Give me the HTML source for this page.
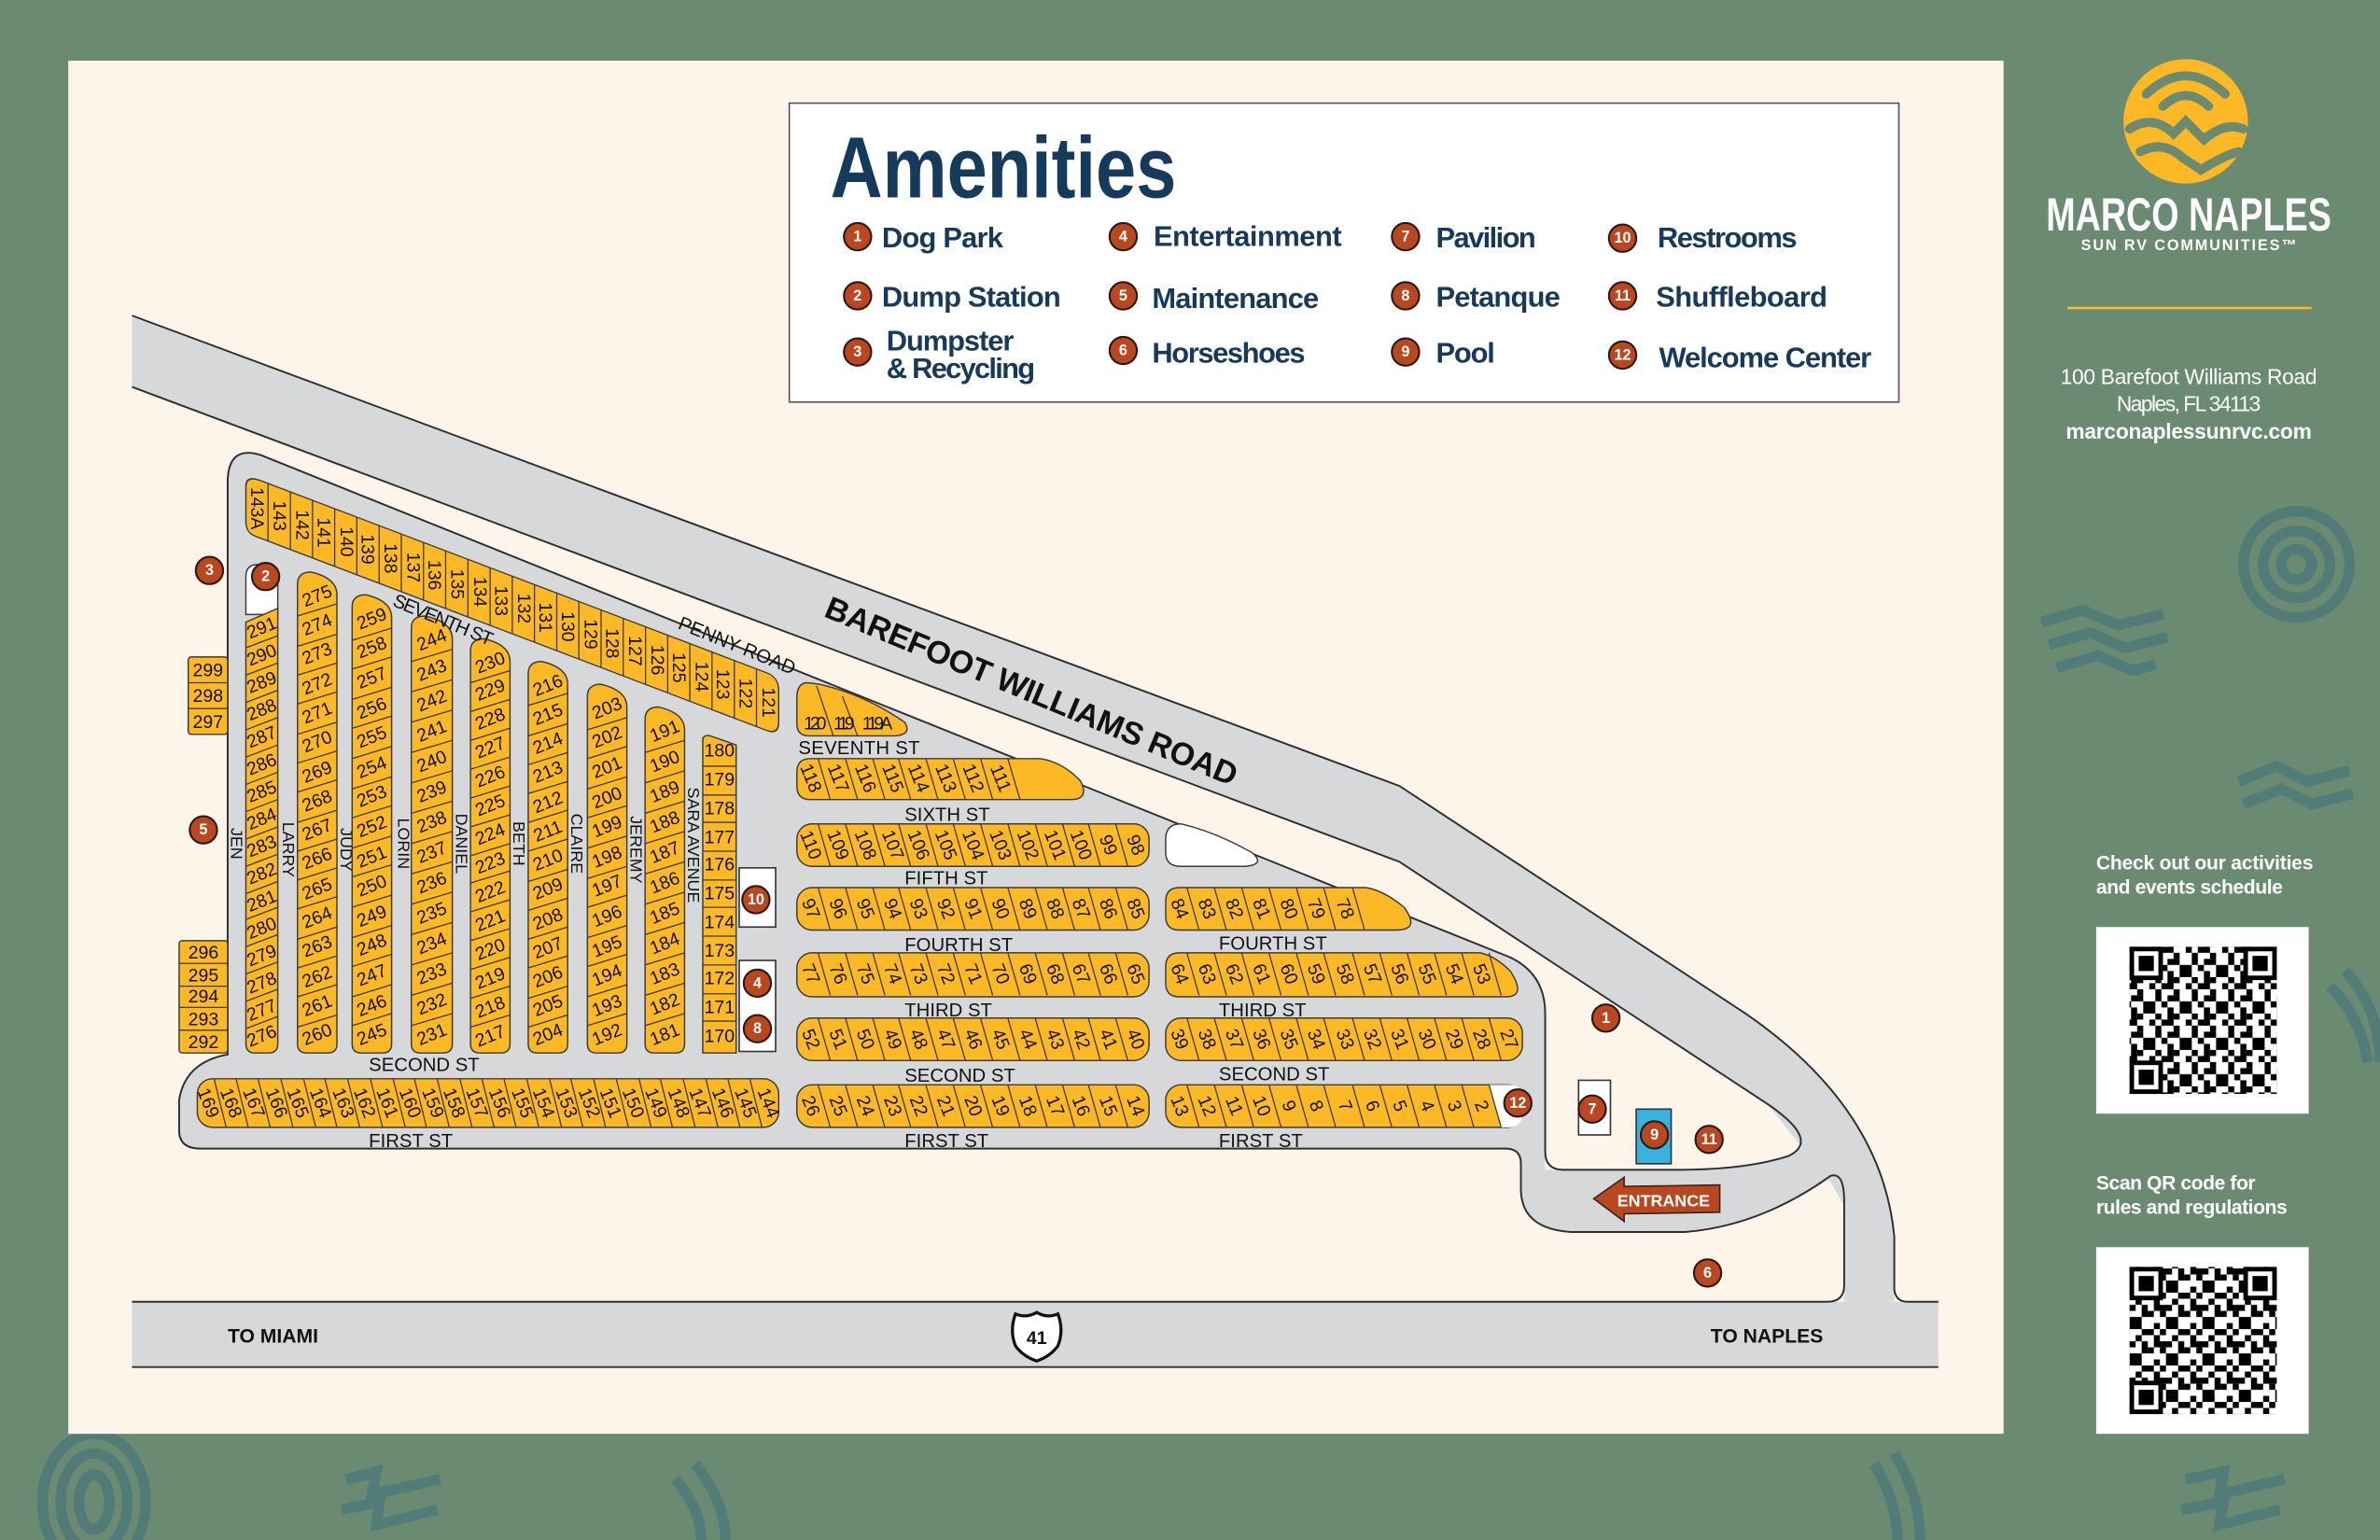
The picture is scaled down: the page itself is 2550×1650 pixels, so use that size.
<!DOCTYPE html>
<html><head><meta charset="utf-8"><style>
html,body{margin:0;padding:0;background:#6a8b71;}
svg{display:block}
</style></head><body>
<svg width="2550" height="1650" viewBox="0 0 1568 1015" preserveAspectRatio="none" xmlns="http://www.w3.org/2000/svg">
<style>
.n{font-family:"Liberation Sans Narrow","Liberation Sans",sans-serif;font-size:12px;fill:#111;text-anchor:middle;dominant-baseline:central}
.s{font-family:"Liberation Sans Narrow","Liberation Sans",sans-serif;font-size:12.5px;fill:#111}
.sv{font-family:"Liberation Sans Narrow","Liberation Sans",sans-serif;font-size:11px;fill:#111;text-anchor:middle;dominant-baseline:central}
.lg{font-family:"Liberation Sans Narrow","Liberation Sans",sans-serif;font-size:19px;fill:#163a5c;font-weight:bold}
.cn{font-family:"Liberation Sans",sans-serif;font-size:10px;font-weight:bold;fill:#fff;text-anchor:middle;dominant-baseline:central}
.y{fill:#fdb825;stroke:#3b3b3b;stroke-width:0.9}
.dv{fill:none;stroke:#3b3b3b;stroke-width:0.8}
.w{fill:#fff;font-family:"Liberation Sans",sans-serif}
</style>
<defs>
<g id="c"><circle r="9" fill="#b9471f" stroke="#2a1a14" stroke-width="1.3"/></g>
<path id="dl" class="dv" d="M539,0L547,28M557,0L565,28M575,0L583,28M592,0L600,28M610,0L618,28M628,0L636,28M646,0L654,28M664,0L672,28M682,0L690,28M700,0L708,28M717,0L725,28M735,0L743,28"/>
<path id="dl8" class="dv" d="M539,0L547,27M557,0L565,27M575,0L583,27M592,0L600,27M610,0L618,27M628,0L636,27M646,0L654,27M664,0L672,27"/>
<path id="dr" class="dv" d="M782,0L790,28M800,0L808,28M818,0L826,28M836,0L844,28M854,0L862,28M872,0L880,28M891,0L899,28M909,0L917,28M927,0L935,28M945,0L953,28M963,0L971,28M981,0L989,28"/>
<path id="dr7" class="dv" d="M782,0L790,28M800,0L808,28M818,0L826,28M836,0L844,28M854,0L862,28M872,0L880,28M891,0L899,28"/>
<pattern id="qp" width="24" height="24" patternUnits="userSpaceOnUse">
<rect width="24" height="24" fill="#fff"/>
<g fill="#000"><rect x="0" y="0" width="4" height="4"/><rect x="8" y="0" width="8" height="4"/><rect x="4" y="4" width="4" height="8"/><rect x="16" y="4" width="4" height="4"/><rect x="12" y="8" width="8" height="4"/><rect x="0" y="12" width="4" height="8"/><rect x="8" y="12" width="4" height="4"/><rect x="20" y="12" width="4" height="8"/><rect x="12" y="16" width="4" height="8"/><rect x="4" y="20" width="4" height="4"/><rect x="16" y="20" width="4" height="4"/></g>
</pattern>
<g id="fp"><rect x="0" y="0" width="22" height="22" fill="#000"/><rect x="3" y="3" width="16" height="16" fill="#fff"/><rect x="6" y="6" width="10" height="10" fill="#000"/></g>
</defs>

<!-- decorative teal -->
<g fill="none" stroke="#4f7a78" stroke-width="7" opacity="0.9">
<circle cx="1513" cy="372" r="35"/><circle cx="1513" cy="372" r="22"/><circle cx="1513" cy="372" r="10"/>
<ellipse cx="62" cy="990" rx="34" ry="45"/><ellipse cx="62" cy="990" rx="22" ry="32"/><ellipse cx="62" cy="990" rx="10" ry="18"/>
<path d="M1345,410 L1372,402 L1395,412 L1425,405 M1350,425 L1377,417 L1400,427 L1428,420 M1355,440 L1382,432 L1405,442 L1420,438"/>
<path d="M1475,515 L1500,505 L1520,515 L1548,508 M1478,530 L1503,520 L1523,530 L1550,523"/>
<path d="M1535,650 Q1555,670 1560,700 M1545,640 Q1568,665 1568,700"/>
<path d="M228,975 L248,970 L245,985 L290,975 M225,995 L250,990 L248,1005 L288,995"/>
<path d="M445,975 Q462,995 462,1015 M458,965 Q478,990 478,1015"/>
<path d="M1235,965 Q1250,990 1250,1015 M1248,958 Q1265,985 1265,1015"/>
<path d="M1440,975 L1465,970 L1462,985 L1505,975 M1437,995 L1465,990 L1462,1005 L1502,995"/>
</g>

<!-- cream panel -->
<rect x="45" y="40" width="1275" height="905" fill="#fdf4ea"/>

<!-- roads fill -->
<g fill="#d7d8da">
<path d="M87,208 L922,518 L1150,668 Q1240,730 1248,815 L1248,858 L1215,858 L1215,790 L1190,760 L1165,728 L922,568 L87,255 Z"/>
<path d="M150,318 Q150,293 172,300 L995,631 Q1018,642 1018,668 L1018,771 L1105,771 Q1150,771 1178,762 L1195,752 L1215,775 L1215,795 L1205,777 Q1160,808 1110,812 L1035,812 Q1003,810 1002,785 L1002,767 Q1002,757 992,757 L132,757 Q118,757 118,745 L118,725 Q122,700 150,695 Z"/>
<rect x="87" y="858" width="1190" height="43"/>
</g>
<g fill="none" stroke="#2e2e2e" stroke-width="1.2">
<path d="M87,208 L922,518 L1150,668 Q1240,730 1248,815 L1248,850 Q1249,858 1257,858 L1277,858"/>
<path d="M87,255 L922,568 L1165,728 Q1200,752 1178,762 Q1150,771 1105,771 L1030,771 Q1018,771 1018,759 L1018,668 Q1018,642 995,631 L172,300 Q150,293 150,318 L150,695 Q122,700 118,725 L118,745 Q118,757 132,757 L992,757 Q1002,757 1002,767 L1002,785 Q1003,810 1035,812 L1110,812 Q1160,808 1206,775 Q1215,772 1215,792 L1215,847 Q1215,858 1204,858 L87,858"/>
<path d="M87,901 L1277,901"/>
</g>

<!-- road labels -->
<text transform="translate(542,406) rotate(22.6)" font-family="Liberation Sans,sans-serif" font-weight="bold" font-size="21" textLength="292" fill="#111">BAREFOOT WILLIAMS ROAD</text>
<text x="150" y="885" font-family="Liberation Sans,sans-serif" font-weight="bold" font-size="13" fill="#111">TO MIAMI</text>
<text x="1127" y="885" font-family="Liberation Sans,sans-serif" font-weight="bold" font-size="13" fill="#111">TO NAPLES</text>
<path d="M669,866 Q676,869 683,865 Q690,869 697,866 Q701,877 697,887 Q692,894 683,897 Q674,894 669,887 Q665,877 669,866 Z" fill="#fff" stroke="#111" stroke-width="2"/>
<text x="683" y="882" class="n" font-weight="bold" font-size="13" font-family="Liberation Sans,sans-serif">41</text>

<!-- horizontal street labels -->
<g class="s" font-size="13">
<text x="526" y="497" textLength="80">SEVENTH ST</text>
<text x="596" y="541">SIXTH ST</text>
<text x="596" y="583">FIFTH ST</text>
<text x="596" y="627">FOURTH ST</text>
<text x="803" y="626">FOURTH ST</text>
<text x="596" y="670">THIRD ST</text>
<text x="803" y="670">THIRD ST</text>
<text x="596" y="713">SECOND ST</text>
<text x="803" y="712">SECOND ST</text>
<text x="596" y="756">FIRST ST</text>
<text x="803" y="756">FIRST ST</text>
<text x="243" y="706">SECOND ST</text>
<text x="243" y="756">FIRST ST</text>
</g>
<g class="sv">
<text transform="translate(156,556) rotate(90)">JEN</text>
<text transform="translate(190,560) rotate(90)">LARRY</text>
<text transform="translate(228,560) rotate(90)">JUDY</text>
<text transform="translate(266,556) rotate(90)">LORIN</text>
<text transform="translate(304,556) rotate(90)">DANIEL</text>
<text transform="translate(342,556) rotate(90)">BETH</text>
<text transform="translate(380,556) rotate(90)">CLAIRE</text>
<text transform="translate(419,560) rotate(90)">JEREMY</text>
<text transform="translate(457,557) rotate(90)">SARA AVENUE</text>
</g>

<!-- diagonal band 143A-121 -->
<g transform="matrix(1 0.38 0 1 0 0)">
<path class="y" d="M172,251.5 L505,251.5 Q513,251.5 513,260 L513,281 Q513,289.5 505,289.5 L168,289.5 Q162,289.5 162,282 L162,259 Q162,251.5 172,251.5 Z"/>
<path class="dv" d="M176.6,251.5V289.5M191.3,251.5V289.5M205.9,251.5V289.5M220.5,251.5V289.5M235.1,251.5V289.5M249.8,251.5V289.5M264.4,251.5V289.5M279,251.5V289.5M293.6,251.5V289.5M308.3,251.5V289.5M322.9,251.5V289.5M337.5,251.5V289.5M352.1,251.5V289.5M366.8,251.5V289.5M381.4,251.5V289.5M396,251.5V289.5M410.6,251.5V289.5M425.3,251.5V289.5M439.9,251.5V289.5M454.5,251.5V289.5M469.1,251.5V289.5M483.8,251.5V289.5M498.4,251.5V289.5"/>
</g>
<g class="n" font-size="12">
<text transform="translate(169,335) rotate(90)">143A</text>
<text transform="translate(184,340) rotate(90)">143</text>
<text transform="translate(199,346) rotate(90)">142</text>
<text transform="translate(213,351) rotate(90)">141</text>
<text transform="translate(228,357) rotate(90)">140</text>
<text transform="translate(242,362) rotate(90)">139</text>
<text transform="translate(257,368) rotate(90)">138</text>
<text transform="translate(272,374) rotate(90)">137</text>
<text transform="translate(286,379) rotate(90)">136</text>
<text transform="translate(301,385) rotate(90)">135</text>
<text transform="translate(316,390) rotate(90)">134</text>
<text transform="translate(330,396) rotate(90)">133</text>
<text transform="translate(345,401) rotate(90)">132</text>
<text transform="translate(359,407) rotate(90)">131</text>
<text transform="translate(374,413) rotate(90)">130</text>
<text transform="translate(389,418) rotate(90)">129</text>
<text transform="translate(403,424) rotate(90)">128</text>
<text transform="translate(418,429) rotate(90)">127</text>
<text transform="translate(433,435) rotate(90)">126</text>
<text transform="translate(447,440) rotate(90)">125</text>
<text transform="translate(462,446) rotate(90)">124</text>
<text transform="translate(476,451) rotate(90)">123</text>
<text transform="translate(491,457) rotate(90)">122</text>
<text transform="translate(506,463) rotate(90)">121</text>
</g>

<!-- left detached boxes -->
<rect class="y" x="124" y="433" width="26" height="51" rx="2"/>
<path class="dv" d="M124,450H150M124,467H150"/>
<rect class="y" x="118" y="620" width="32" height="74" rx="2"/>
<path class="dv" d="M118,635H150M118,650H150M118,664H150M118,679H150"/>
<g class="n" font-size="12">
<text x="137" y="442">299</text><text x="137" y="459">298</text><text x="137" y="476">297</text>
<text x="134" y="628">296</text><text x="134" y="643">295</text><text x="134" y="657">294</text><text x="134" y="672">293</text><text x="134" y="687">292</text>
</g>

<!-- vertical columns -->
<path d="M162,405 L162,380 Q162,372 170,372 Q183,374 183,384 L183,405 Z" fill="#fff" stroke="#3b3b3b" stroke-width="0.9"/>
<path class="y" d="M162,410 L183,401 L183,688 Q183,694 177,694 L168,694 Q162,694 162,688 Z"/>
<path class="y" d="M196,385 Q196,377 205,377 Q222,381 222,392 L222,688 Q222,694 216,694 L202,694 Q196,694 196,688 Z"/>
<path class="y" d="M232,400 Q232,392 241,392 Q258,396 258,407 L258,688 Q258,694 252,694 L238,694 Q232,694 232,688 Z"/>
<path class="y" d="M271,414 Q271,406 280,406 Q298,410 298,421 L298,688 Q298,694 292,694 L277,694 Q271,694 271,688 Z"/>
<path class="y" d="M310,429 Q310,421 319,421 Q336,425 336,436 L336,688 Q336,694 330,694 L316,694 Q310,694 310,688 Z"/>
<path class="y" d="M348,444 Q348,436 357,436 Q374,440 374,451 L374,688 Q374,694 368,694 L354,694 Q348,694 348,688 Z"/>
<path class="y" d="M387,459 Q387,451 396,451 Q413,455 413,466 L413,688 Q413,694 407,694 L393,694 Q387,694 387,688 Z"/>
<path class="y" d="M425,474 Q425,466 434,466 Q451,470 451,481 L451,688 Q451,694 445,694 L431,694 Q425,694 425,688 Z"/>
<path class="y" d="M463,486 L463,488 Q463,484 468,485 L485,491 L485,694 L463,694 Z"/>
<path class="dv" d="M162,427L183,419M162,445L183,437M162,463L183,455M162,481L183,473M162,499L183,491M162,517L183,509M162,535L183,527M162,553L183,545M162,571L183,563M162,589L183,581M162,606L183,598M162,624L183,616M162,642L183,634M162,660L183,652M162,678L183,670"/>
<path class="dv" d="M196,406L222,398M196,426L222,418M196,445L222,437M196,464L222,456M196,484L222,476M196,503L222,495M196,522L222,514M196,542L222,534M196,561L222,553M196,580L222,572M196,599L222,591M196,619L222,611M196,638L222,630M196,657L222,649M196,677L222,669"/>
<path class="dv" d="M232,422L258,414M232,441L258,433M232,461L258,453M232,480L258,472M232,500L258,492M232,520L258,512M232,539L258,531M232,559L258,551M232,578L258,570M232,598L258,590M232,618L258,610M232,637L258,629M232,657L258,649M232,676L258,668"/>
<path class="dv" d="M271,436L298,428M271,456L298,448M271,476L298,468M271,496L298,488M271,516L298,508M271,536L298,528M271,556L298,548M271,576L298,568M271,596L298,588M271,616L298,608M271,636L298,628M271,656L298,648M271,676L298,668"/>
<path class="dv" d="M310,450L336,442M310,469L336,461M310,488L336,480M310,507L336,499M310,526L336,518M310,545L336,537M310,564L336,556M310,582L336,574M310,601L336,593M310,620L336,612M310,639L336,631M310,658L336,650M310,677L336,669"/>
<path class="dv" d="M348,465L374,457M348,485L374,477M348,504L374,496M348,523L374,515M348,542L374,534M348,561L374,553M348,581L374,573M348,600L374,592M348,619L374,611M348,638L374,630M348,658L374,650M348,677L374,669"/>
<path class="dv" d="M387,481L413,473M387,500L413,492M387,520L413,512M387,539L413,531M387,559L413,551M387,579L413,571M387,598L413,590M387,618L413,610M387,637L413,629M387,657L413,649M387,676L413,668"/>
<path class="dv" d="M425,496L451,488M425,516L451,508M425,536L451,528M425,556L451,548M425,576L451,568M425,596L451,588M425,616L451,608M425,636L451,628M425,656L451,648M425,676L451,668"/>
<path class="dv" d="M463,505H485M463,524H485M463,542H485M463,561H485M463,580H485M463,598H485M463,617H485M463,636H485M463,655H485M463,673H485"/>

<!-- diagonal labels drawn over -->
<text transform="translate(258,399) rotate(22.5)" class="s" font-size="12" textLength="70">SEVENTH ST</text>
<text transform="translate(446,414) rotate(22)" class="s" font-size="12" textLength="82">PENNY ROAD</text>

<g class="n" font-size="12">
<text transform="translate(172.5,414) rotate(-22)">291</text><text transform="translate(172.5,432) rotate(-22)">290</text><text transform="translate(172.5,450) rotate(-22)">289</text><text transform="translate(172.5,468) rotate(-22)">288</text><text transform="translate(172.5,486) rotate(-22)">287</text><text transform="translate(172.5,504) rotate(-22)">286</text><text transform="translate(172.5,522) rotate(-22)">285</text><text transform="translate(172.5,540) rotate(-22)">284</text><text transform="translate(172.5,558) rotate(-22)">283</text><text transform="translate(172.5,576) rotate(-22)">282</text><text transform="translate(172.5,594) rotate(-22)">281</text><text transform="translate(172.5,612) rotate(-22)">280</text><text transform="translate(172.5,630) rotate(-22)">279</text><text transform="translate(172.5,648) rotate(-22)">278</text><text transform="translate(172.5,666) rotate(-22)">277</text><text transform="translate(172.5,683) rotate(-22)">276</text>
<text transform="translate(209,393) rotate(-22)">275</text><text transform="translate(209,412) rotate(-22)">274</text><text transform="translate(209,431) rotate(-22)">273</text><text transform="translate(209,451) rotate(-22)">272</text><text transform="translate(209,470) rotate(-22)">271</text><text transform="translate(209,489) rotate(-22)">270</text><text transform="translate(209,509) rotate(-22)">269</text><text transform="translate(209,528) rotate(-22)">268</text><text transform="translate(209,547) rotate(-22)">267</text><text transform="translate(209,566) rotate(-22)">266</text><text transform="translate(209,586) rotate(-22)">265</text><text transform="translate(209,605) rotate(-22)">264</text><text transform="translate(209,624) rotate(-22)">263</text><text transform="translate(209,644) rotate(-22)">262</text><text transform="translate(209,663) rotate(-22)">261</text><text transform="translate(209,682) rotate(-22)">260</text>
<text transform="translate(245,408) rotate(-22)">259</text><text transform="translate(245,427) rotate(-22)">258</text><text transform="translate(245,447) rotate(-22)">257</text><text transform="translate(245,467) rotate(-22)">256</text><text transform="translate(245,486) rotate(-22)">255</text><text transform="translate(245,506) rotate(-22)">254</text><text transform="translate(245,525) rotate(-22)">253</text><text transform="translate(245,545) rotate(-22)">252</text><text transform="translate(245,565) rotate(-22)">251</text><text transform="translate(245,584) rotate(-22)">250</text><text transform="translate(245,604) rotate(-22)">249</text><text transform="translate(245,623) rotate(-22)">248</text><text transform="translate(245,643) rotate(-22)">247</text><text transform="translate(245,663) rotate(-22)">246</text><text transform="translate(245,682) rotate(-22)">245</text>
<text transform="translate(284.5,422) rotate(-22)">244</text><text transform="translate(284.5,442) rotate(-22)">243</text><text transform="translate(284.5,462) rotate(-22)">242</text><text transform="translate(284.5,482) rotate(-22)">241</text><text transform="translate(284.5,502) rotate(-22)">240</text><text transform="translate(284.5,522) rotate(-22)">239</text><text transform="translate(284.5,542) rotate(-22)">238</text><text transform="translate(284.5,562) rotate(-22)">237</text><text transform="translate(284.5,582) rotate(-22)">236</text><text transform="translate(284.5,602) rotate(-22)">235</text><text transform="translate(284.5,622) rotate(-22)">234</text><text transform="translate(284.5,642) rotate(-22)">233</text><text transform="translate(284.5,662) rotate(-22)">232</text><text transform="translate(284.5,682) rotate(-22)">231</text>
<text transform="translate(323,437) rotate(-22)">230</text><text transform="translate(323,455) rotate(-22)">229</text><text transform="translate(323,474) rotate(-22)">228</text><text transform="translate(323,493) rotate(-22)">227</text><text transform="translate(323,512) rotate(-22)">226</text><text transform="translate(323,531) rotate(-22)">225</text><text transform="translate(323,550) rotate(-22)">224</text><text transform="translate(323,569) rotate(-22)">223</text><text transform="translate(323,588) rotate(-22)">222</text><text transform="translate(323,607) rotate(-22)">221</text><text transform="translate(323,626) rotate(-22)">220</text><text transform="translate(323,645) rotate(-22)">219</text><text transform="translate(323,664) rotate(-22)">218</text><text transform="translate(323,683) rotate(-22)">217</text>
<text transform="translate(361,452) rotate(-22)">216</text><text transform="translate(361,471) rotate(-22)">215</text><text transform="translate(361,490) rotate(-22)">214</text><text transform="translate(361,509) rotate(-22)">213</text><text transform="translate(361,529) rotate(-22)">212</text><text transform="translate(361,548) rotate(-22)">211</text><text transform="translate(361,567) rotate(-22)">210</text><text transform="translate(361,586) rotate(-22)">209</text><text transform="translate(361,606) rotate(-22)">208</text><text transform="translate(361,625) rotate(-22)">207</text><text transform="translate(361,644) rotate(-22)">206</text><text transform="translate(361,663) rotate(-22)">205</text><text transform="translate(361,682) rotate(-22)">204</text>
<text transform="translate(400,467) rotate(-22)">203</text><text transform="translate(400,486) rotate(-22)">202</text><text transform="translate(400,506) rotate(-22)">201</text><text transform="translate(400,526) rotate(-22)">200</text><text transform="translate(400,545) rotate(-22)">199</text><text transform="translate(400,565) rotate(-22)">198</text><text transform="translate(400,584) rotate(-22)">197</text><text transform="translate(400,604) rotate(-22)">196</text><text transform="translate(400,624) rotate(-22)">195</text><text transform="translate(400,643) rotate(-22)">194</text><text transform="translate(400,663) rotate(-22)">193</text><text transform="translate(400,682) rotate(-22)">192</text>
<text transform="translate(438,482) rotate(-22)">191</text><text transform="translate(438,502) rotate(-22)">190</text><text transform="translate(438,522) rotate(-22)">189</text><text transform="translate(438,542) rotate(-22)">188</text><text transform="translate(438,562) rotate(-22)">187</text><text transform="translate(438,582) rotate(-22)">186</text><text transform="translate(438,602) rotate(-22)">185</text><text transform="translate(438,622) rotate(-22)">184</text><text transform="translate(438,642) rotate(-22)">183</text><text transform="translate(438,662) rotate(-22)">182</text><text transform="translate(438,682) rotate(-22)">181</text>
</g>
<g class="n" font-size="11.5">
<text x="474" y="495">180</text><text x="474" y="514">179</text><text x="474" y="533">178</text><text x="474" y="552">177</text><text x="474" y="570">176</text><text x="474" y="589">175</text><text x="474" y="608">174</text><text x="474" y="627">173</text><text x="474" y="645">172</text><text x="474" y="664">171</text><text x="474" y="683">170</text>
</g>

<!-- white amenity boxes -->
<rect x="487" y="572" width="24" height="39" fill="#fff" stroke="#333" stroke-width="1"/>
<rect x="487" y="633" width="24" height="60" fill="#fff" stroke="#333" stroke-width="1"/>
<rect x="1040" y="712" width="21" height="36" fill="#fff" stroke="#333" stroke-width="1"/>
<rect x="1078" y="731" width="23" height="36" fill="#38b3e0" stroke="#333" stroke-width="1"/>

<!-- 120 119 119A -->
<path class="y" d="M532,450 Q525,450 525,460 L525,477 Q525,485 533,485 L590,485 Q601,484 596,476 Q570,458 540,451 Z"/>
<path class="dv" d="M538,452L549,485M555,459L565,485"/>
<g class="n" font-size="11"><text x="537" y="477" textLength="15">120</text><text x="556" y="477" textLength="14">119</text><text x="578" y="477" textLength="20">119A</text></g>

<!-- horizontal rows -->
<path class="y" d="M534,500 L685,500 Q700,502 712,515 Q718,527 705,527 L534,527 Q525,527 525,518 L525,509 Q525,500 534,500 Z"/>
<use href="#dl8" y="500"/>
<rect class="y" x="525" y="543" width="232" height="28" rx="10"/><use href="#dl" y="543"/>
<rect class="y" x="525" y="585" width="232" height="28" rx="10"/><use href="#dl" y="585"/>
<rect class="y" x="525" y="628" width="232" height="29" rx="10"/><use href="#dl" y="628"/>
<rect class="y" x="525" y="671" width="232" height="28" rx="10"/><use href="#dl" y="671"/>
<rect class="y" x="525" y="715" width="232" height="28" rx="10"/><use href="#dl" y="715"/>
<path d="M778,543 Q768,543 768,553 L768,562 Q768,571 778,571 L820,571 Q834,570 825,562 Q800,548 778,543 Z" fill="#fff" stroke="#3b3b3b" stroke-width="0.9"/>
<path class="y" d="M777,585 L900,585 Q912,587 925,598 Q936,613 920,613 L777,613 Q768,613 768,604 L768,594 Q768,585 777,585 Z"/><use href="#dr7" y="585"/>
<path class="y" d="M777,628 L975,628 Q985,630 995,640 Q1006,657 992,657 L777,657 Q768,657 768,648 L768,637 Q768,628 777,628 Z"/><use href="#dr" y="628"/>
<rect class="y" x="768" y="671" width="235" height="28" rx="10"/><use href="#dr" y="671"/>
<rect class="y" x="768" y="715" width="235" height="28" rx="10"/>
<path d="M981,715 L994,715 Q1003,715 1003,724 L1003,734 Q1003,743 994,743 L989,743 Z" fill="#fff"/>
<use href="#dr" y="715"/>
<rect class="y" x="130" y="711" width="383" height="32" rx="10"/>
<path class="dv" d="M141,711L149,743M155.5,711L163.5,743M170,711L178,743M185,711L193,743M200,711L208,743M214,711L222,743M229,711L237,743M244,711L252,743M259,711L267,743M273,711L281,743M288,711L296,743M303,711L311,743M317.5,711L325.5,743M332,711L340,743M347,711L355,743M362,711L370,743M376,711L384,743M391,711L399,743M406,711L414,743M421,711L429,743M435,711L443,743M450,711L458,743M465,711L473,743M479.5,711L487.5,743M494,711L502,743"/>

<g class="n" font-size="12.5">
<text transform="translate(534,513) rotate(68)">118</text><text transform="translate(552,513) rotate(68)">117</text><text transform="translate(570,513) rotate(68)">116</text><text transform="translate(588,513) rotate(68)">115</text><text transform="translate(605,513) rotate(68)">114</text><text transform="translate(623,513) rotate(68)">113</text><text transform="translate(641,513) rotate(68)">112</text><text transform="translate(659,513) rotate(68)">111</text>
<text transform="translate(534,557) rotate(68)">110</text><text transform="translate(552,557) rotate(68)">109</text><text transform="translate(570,557) rotate(68)">108</text><text transform="translate(588,557) rotate(68)">107</text><text transform="translate(605,557) rotate(68)">106</text><text transform="translate(623,557) rotate(68)">105</text><text transform="translate(641,557) rotate(68)">104</text><text transform="translate(659,557) rotate(68)">103</text><text transform="translate(677,557) rotate(68)">102</text><text transform="translate(695,557) rotate(68)">101</text><text transform="translate(712,557) rotate(68)">100</text><text transform="translate(730,557) rotate(68)">99</text><text transform="translate(748,557) rotate(68)">98</text>
<text transform="translate(534,599) rotate(68)">97</text><text transform="translate(552,599) rotate(68)">96</text><text transform="translate(570,599) rotate(68)">95</text><text transform="translate(588,599) rotate(68)">94</text><text transform="translate(605,599) rotate(68)">93</text><text transform="translate(623,599) rotate(68)">92</text><text transform="translate(641,599) rotate(68)">91</text><text transform="translate(659,599) rotate(68)">90</text><text transform="translate(677,599) rotate(68)">89</text><text transform="translate(695,599) rotate(68)">88</text><text transform="translate(712,599) rotate(68)">87</text><text transform="translate(730,599) rotate(68)">86</text><text transform="translate(748,599) rotate(68)">85</text>
<text transform="translate(534,642) rotate(68)">77</text><text transform="translate(552,642) rotate(68)">76</text><text transform="translate(570,642) rotate(68)">75</text><text transform="translate(588,642) rotate(68)">74</text><text transform="translate(605,642) rotate(68)">73</text><text transform="translate(623,642) rotate(68)">72</text><text transform="translate(641,642) rotate(68)">71</text><text transform="translate(659,642) rotate(68)">70</text><text transform="translate(677,642) rotate(68)">69</text><text transform="translate(695,642) rotate(68)">68</text><text transform="translate(712,642) rotate(68)">67</text><text transform="translate(730,642) rotate(68)">66</text><text transform="translate(748,642) rotate(68)">65</text>
<text transform="translate(534,685) rotate(68)">52</text><text transform="translate(552,685) rotate(68)">51</text><text transform="translate(570,685) rotate(68)">50</text><text transform="translate(588,685) rotate(68)">49</text><text transform="translate(605,685) rotate(68)">48</text><text transform="translate(623,685) rotate(68)">47</text><text transform="translate(641,685) rotate(68)">46</text><text transform="translate(659,685) rotate(68)">45</text><text transform="translate(677,685) rotate(68)">44</text><text transform="translate(695,685) rotate(68)">43</text><text transform="translate(712,685) rotate(68)">42</text><text transform="translate(730,685) rotate(68)">41</text><text transform="translate(748,685) rotate(68)">40</text>
<text transform="translate(534,729) rotate(68)">26</text><text transform="translate(552,729) rotate(68)">25</text><text transform="translate(570,729) rotate(68)">24</text><text transform="translate(588,729) rotate(68)">23</text><text transform="translate(605,729) rotate(68)">22</text><text transform="translate(623,729) rotate(68)">21</text><text transform="translate(641,729) rotate(68)">20</text><text transform="translate(659,729) rotate(68)">19</text><text transform="translate(677,729) rotate(68)">18</text><text transform="translate(695,729) rotate(68)">17</text><text transform="translate(712,729) rotate(68)">16</text><text transform="translate(730,729) rotate(68)">15</text><text transform="translate(748,729) rotate(68)">14</text>
<text transform="translate(777,599) rotate(68)">84</text><text transform="translate(795,599) rotate(68)">83</text><text transform="translate(813,599) rotate(68)">82</text><text transform="translate(831,599) rotate(68)">81</text><text transform="translate(849,599) rotate(68)">80</text><text transform="translate(867,599) rotate(68)">79</text><text transform="translate(886,599) rotate(68)">78</text>
<text transform="translate(777,642) rotate(68)">64</text><text transform="translate(795,642) rotate(68)">63</text><text transform="translate(813,642) rotate(68)">62</text><text transform="translate(831,642) rotate(68)">61</text><text transform="translate(849,642) rotate(68)">60</text><text transform="translate(867,642) rotate(68)">59</text><text transform="translate(886,642) rotate(68)">58</text><text transform="translate(904,642) rotate(68)">57</text><text transform="translate(922,642) rotate(68)">56</text><text transform="translate(940,642) rotate(68)">55</text><text transform="translate(958,642) rotate(68)">54</text><text transform="translate(976,642) rotate(68)">53</text>
<text transform="translate(777,685) rotate(68)">39</text><text transform="translate(795,685) rotate(68)">38</text><text transform="translate(813,685) rotate(68)">37</text><text transform="translate(831,685) rotate(68)">36</text><text transform="translate(849,685) rotate(68)">35</text><text transform="translate(867,685) rotate(68)">34</text><text transform="translate(886,685) rotate(68)">33</text><text transform="translate(904,685) rotate(68)">32</text><text transform="translate(922,685) rotate(68)">31</text><text transform="translate(940,685) rotate(68)">30</text><text transform="translate(958,685) rotate(68)">29</text><text transform="translate(976,685) rotate(68)">28</text><text transform="translate(994,685) rotate(68)">27</text>
<text transform="translate(777,729) rotate(68)">13</text><text transform="translate(795,729) rotate(68)">12</text><text transform="translate(813,729) rotate(68)">11</text><text transform="translate(831,729) rotate(68)">10</text><text transform="translate(849,729) rotate(68)">9</text><text transform="translate(867,729) rotate(68)">8</text><text transform="translate(886,729) rotate(68)">7</text><text transform="translate(904,729) rotate(68)">6</text><text transform="translate(922,729) rotate(68)">5</text><text transform="translate(940,729) rotate(68)">4</text><text transform="translate(958,729) rotate(68)">3</text><text transform="translate(976,729) rotate(68)">2</text>
</g>
<g class="n" font-size="11.5">
<text transform="translate(137,727) rotate(68)">169</text><text transform="translate(152,727) rotate(68)">168</text><text transform="translate(167,727) rotate(68)">167</text><text transform="translate(182,727) rotate(68)">166</text><text transform="translate(196,727) rotate(68)">165</text><text transform="translate(211,727) rotate(68)">164</text><text transform="translate(226,727) rotate(68)">163</text><text transform="translate(240,727) rotate(68)">162</text><text transform="translate(255,727) rotate(68)">161</text><text transform="translate(270,727) rotate(68)">160</text><text transform="translate(285,727) rotate(68)">159</text><text transform="translate(299,727) rotate(68)">158</text><text transform="translate(314,727) rotate(68)">157</text><text transform="translate(329,727) rotate(68)">156</text><text transform="translate(344,727) rotate(68)">155</text><text transform="translate(358,727) rotate(68)">154</text><text transform="translate(373,727) rotate(68)">153</text><text transform="translate(388,727) rotate(68)">152</text><text transform="translate(402,727) rotate(68)">151</text><text transform="translate(417,727) rotate(68)">150</text><text transform="translate(432,727) rotate(68)">149</text><text transform="translate(447,727) rotate(68)">148</text><text transform="translate(461,727) rotate(68)">147</text><text transform="translate(476,727) rotate(68)">146</text><text transform="translate(491,727) rotate(68)">145</text><text transform="translate(506,727) rotate(68)">144</text>
</g>

<!-- entrance arrow -->
<path d="M1050,790 L1070,776 L1070,782 L1133,781 L1133,799 L1070,800 L1070,805 Z" fill="#b9471f" stroke="#3a2418" stroke-width="1"/>
<text x="1096" y="795" font-family="Liberation Sans,sans-serif" font-size="11" font-weight="bold" fill="#fff" text-anchor="middle">ENTRANCE</text>

<!-- map amenity circles -->
<g>
<use href="#c" x="138" y="376"/><text class="cn" x="138" y="376">3</text>
<use href="#c" x="175" y="380"/><text class="cn" x="175" y="380">2</text>
<use href="#c" x="134" y="547"/><text class="cn" x="134" y="547">5</text>
<use href="#c" x="498" y="593"/><text class="cn" x="498" y="593">10</text>
<use href="#c" x="499" y="648"/><text class="cn" x="499" y="648">4</text>
<use href="#c" x="499" y="678"/><text class="cn" x="499" y="678">8</text>
<use href="#c" x="1058" y="671"/><text class="cn" x="1058" y="671">1</text>
<use href="#c" x="1000" y="727"/><text class="cn" x="1000" y="727">12</text>
<use href="#c" x="1049" y="731"/><text class="cn" x="1049" y="731">7</text>
<use href="#c" x="1090" y="748"/><text class="cn" x="1090" y="748">9</text>
<use href="#c" x="1126" y="751"/><text class="cn" x="1126" y="751">11</text>
<use href="#c" x="1125" y="839"/><text class="cn" x="1125" y="839">6</text>
</g>

<!-- amenities box -->
<rect x="520" y="68" width="731" height="197" fill="#fff" stroke="#555" stroke-width="1"/>
<text x="547" y="130" font-family="Liberation Sans Narrow,Liberation Sans,sans-serif" font-weight="bold" font-size="57" fill="#163a5c" textLength="228" lengthAdjust="spacingAndGlyphs">Amenities</text>
<g>
<use href="#c" x="565" y="156"/><text class="cn" x="565" y="156">1</text>
<use href="#c" x="565" y="195"/><text class="cn" x="565" y="195">2</text>
<use href="#c" x="565" y="232"/><text class="cn" x="565" y="232">3</text>
<use href="#c" x="740" y="156"/><text class="cn" x="740" y="156">4</text>
<use href="#c" x="740" y="195"/><text class="cn" x="740" y="195">5</text>
<use href="#c" x="740" y="231"/><text class="cn" x="740" y="231">6</text>
<use href="#c" x="926" y="156"/><text class="cn" x="926" y="156">7</text>
<use href="#c" x="926" y="195"/><text class="cn" x="926" y="195">8</text>
<use href="#c" x="926" y="232"/><text class="cn" x="926" y="232">9</text>
<use href="#c" x="1069" y="157"/><text class="cn" x="1069" y="157">10</text>
<use href="#c" x="1069" y="195"/><text class="cn" x="1069" y="195">11</text>
<use href="#c" x="1069" y="234"/><text class="cn" x="1069" y="234">12</text>
</g>
<g class="lg">
<text x="581" y="163" textLength="80">Dog Park</text>
<text x="581" y="202" textLength="118">Dump Station</text>
<text x="584" y="231" textLength="84">Dumpster</text>
<text x="584" y="249" textLength="98">&amp; Recycling</text>
<text x="760" y="162" textLength="124">Entertainment</text>
<text x="759" y="203" textLength="110">Maintenance</text>
<text x="759" y="239" textLength="101">Horseshoes</text>
<text x="946" y="163" textLength="66">Pavilion</text>
<text x="946" y="202" textLength="82">Petanque</text>
<text x="946" y="239" textLength="39">Pool</text>
<text x="1092" y="163" textLength="92">Restrooms</text>
<text x="1091" y="202" textLength="113">Shuffleboard</text>
<text x="1093" y="242" textLength="140">Welcome Center</text>
</g>

<!-- right panel: logo -->
<circle cx="1440" cy="80" r="41" fill="#fdb825"/>
<g fill="none" stroke="#6a8b71" stroke-width="6" stroke-linecap="round">
<path d="M1414,62 Q1440,38 1466,62"/>
<path d="M1425,70 Q1440,56 1455,70"/>
<path d="M1403,85 Q1418,75 1432,88 L1440,80 L1452,92 Q1466,80 1478,85"/>
<path d="M1410,100 Q1425,92 1438,104 L1450,112 Q1466,102 1475,100"/>
</g>
<text x="1442" y="152" text-anchor="middle" font-family="Liberation Sans Narrow,Liberation Sans,sans-serif" font-weight="bold" font-size="31" fill="#fff" textLength="188" lengthAdjust="spacingAndGlyphs">MARCO NAPLES</text>
<text x="1442" y="165" text-anchor="middle" font-family="Liberation Sans,sans-serif" font-weight="bold" font-size="10" fill="#fff" textLength="142">SUN RV COMMUNITIES™</text>
<line x1="1362" y1="203" x2="1523" y2="203" stroke="#fdb825" stroke-width="1.5"/>
<g class="w" text-anchor="middle">
<text x="1442" y="253" font-size="14" textLength="169">100 Barefoot Williams Road</text>
<text x="1442" y="271" font-size="14" textLength="95">Naples, FL  34113</text>
<text x="1442" y="289" font-size="14" font-weight="bold" textLength="162">marconaplessunrvc.com</text>
</g>
<g class="w" font-size="13" font-weight="bold">
<text x="1381" y="573" textLength="143">Check out our activities</text>
<text x="1381" y="589" textLength="123">and events schedule</text>
<text x="1381" y="784" textLength="105">Scan QR code for</text>
<text x="1381" y="800" textLength="126">rules and regulations</text>
</g>
<rect x="1381" y="611" width="140" height="123" fill="#fff"/>
<rect x="1403" y="624" width="97" height="97" fill="url(#qp)"/>
<use href="#fp" x="1403" y="624"/><use href="#fp" x="1478" y="624"/><use href="#fp" x="1403" y="699"/>
<rect x="1381" y="822" width="140" height="123" fill="#fff"/>
<rect x="1403" y="835" width="97" height="97" fill="url(#qp)" transform="rotate(90 1451.5 883.5)"/>
<use href="#fp" x="1403" y="835"/><use href="#fp" x="1478" y="835"/><use href="#fp" x="1403" y="910"/>
</svg>
</body></html>
